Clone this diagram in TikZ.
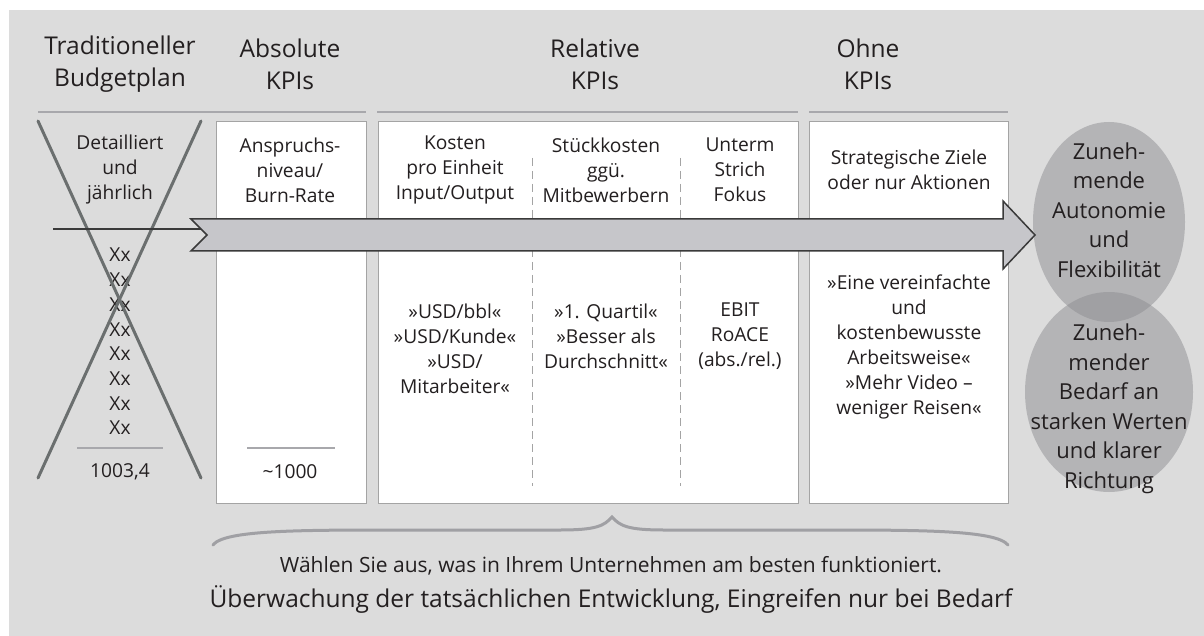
\documentclass[tikz,border=0pt]{standalone}
\usepackage{fontspec}
\setmainfont{Open Sans}
\usetikzlibrary{shapes.geometric}
\definecolor{bg}{HTML}{DCDCDC}
\definecolor{rulec}{HTML}{A8A8AC}
\definecolor{boxline}{HTML}{A4A4A4}
\definecolor{txt}{HTML}{231F20}
\definecolor{crossc}{HTML}{6B6F6F}
\definecolor{arrowfill}{HTML}{C6C6CA}
\definecolor{arrowline}{HTML}{3A3A3A}
\definecolor{ellc}{HTML}{8E8E92}
\definecolor{bracec}{HTML}{A0A0A4}
\begin{document}
\begin{tikzpicture}[x=1pt,y=-1pt,
  hdr/.style={text=txt,font=\fontsize{24.5}{32}\selectfont,align=center,inner sep=0pt},
  bt/.style={text=txt,font=\fontsize{19.2}{25}\selectfont,align=center,inner sep=0pt},
  et/.style={text=txt,font=\fontsize{22}{29.5}\selectfont,align=center,inner sep=0pt},
  hrule/.style={draw=rulec,line width=2.2pt},
  srule/.style={draw=rulec,line width=1.4pt},
  colbox/.style={draw=boxline,fill=white,line width=0.8pt,inner sep=0pt,anchor=north west},
  divider/.style={draw=boxline,line width=0.9pt,dash pattern=on 8pt off 5pt},
  crossline/.style={draw=crossc,line width=3pt,line cap=round},
  bigarrow/.style={draw=arrowline,fill=arrowfill,line width=1.5pt,line join=miter},
  feed/.style={draw=arrowline,line width=1.5pt},
  ell/.style={ellipse,fill=ellc,fill opacity=0.5,draw=none,inner sep=0pt},
  bracepath/.style={draw=bracec,line width=3pt,line cap=round}
]
\useasboundingbox (0,0) rectangle (1204,636);
\fill[bg] (9,10) rectangle (1204,636);

% headers
\node[hdr] (hTrad) at (120,64) {Traditioneller\\Budgetplan};
\node[hdr] (hAbs) at (290,64) {Absolute\\KPIs};
\node[hdr] (hRel) at (595,64) {Relative\\KPIs};
\node[hdr] (hOhne) at (868,64) {Ohne\\KPIs};

\draw[hrule] (38,112) -- (366,112);
\draw[hrule] (377,112) -- (798,112);
\draw[hrule] (809,112) -- (1008,112);

% boxes
\node[colbox,minimum width=150pt,minimum height=382pt] (boxAbs) at (216,121) {};
\node[colbox,minimum width=420pt,minimum height=382pt] (boxRel) at (378,121) {};
\node[colbox,minimum width=199pt,minimum height=382pt] (boxOhne) at (809,121) {};

\draw[divider] (532,158) -- (532,486);
\draw[divider] (680,158) -- (680,486);

% traditional column
\node[bt] (tTop) at (120,170) {Detailliert\\und\\jährlich};
\node[bt,font=\fontsize{19.2}{24.7}\selectfont] (tXx) at (120,341.5) {Xx\\Xx\\Xx\\Xx\\Xx\\Xx\\Xx\\Xx};
\draw[srule] (77,448) -- (163,448);
\node[bt] (tSum) at (120,472) {1003,4};

% absolute column
\node[bt] (aTop) at (290,170) {Anspruchs-\\niveau/\\Burn-Rate};
\draw[srule] (247,448) -- (335,448);
\node[bt] (aSum) at (290,472) {\char"007E 1000};

% relative column
\node[bt] (r1Top) at (455,170) {Kosten\\pro Einheit\\Input/Output};
\node[bt] (r2Top) at (606,170) {Stückkosten\\ggü.\\Mitbewerbern};
\node[bt] (r3Top) at (740,170) {Unterm\\Strich\\Fokus};
\node[bt] (r1Bot) at (455,348.5) {»USD/bbl«\\»USD/Kunde«\\»USD/\\Mitarbeiter«};
\node[bt] (r2Bot) at (606,336) {»1. Quartil«\\»Besser als\\Durchschnitt«};
\node[bt] (r3Bot) at (740,336) {EBIT\\RoACE\\(abs./rel.)};

% ohne column
\node[bt] (oTop) at (909,169.5) {Strategische Ziele\\oder nur Aktionen};
\node[bt] (oBot) at (909,347) {»Eine vereinfachte\\und\\kostenbewusste\\Arbeitsweise«\\»Mehr Video –\\weniger Reisen«};

% cross
\draw[crossline] (38,121) -- (201,478);
\draw[crossline] (201,121) -- (38,478);

% ellipses
\node[ell,minimum width=152pt,minimum height=200pt] (e1) at (1109,222) {};
\node[ell,minimum width=168pt,minimum height=200pt] (e2) at (1109,392) {};
\node[et] (e1t) at (1109,210) {Zuneh-\\mende\\Autonomie\\und\\Flexibilität};
\node[et] (e2t) at (1109,409) {Zuneh-\\mender\\Bedarf an\\starken Werten\\und klarer\\Richtung};

% arrow
\coordinate (feedStart) at (53,229);
\coordinate (notch) at (201,229);
\draw[feed] (feedStart) -- (notch);
\draw[bigarrow] (191,219) -- (1003,219) -- (1003,201) -- (1035,235) -- (1003,269) -- (1003,251) -- (191,251) -- (207,235) -- cycle;

% brace
\draw[bracepath] (213,545) .. controls (224,530) and (300,530) .. (400,530) -- (560,530) .. controls (596,530) and (604,526) .. (612,517)
  .. controls (620,526) and (628,530) .. (664,530) -- (820,530) .. controls (920,530) and (996,530) .. (1008,545);

\node[text=txt,font=\fontsize{21}{24}\selectfont,inner sep=0pt] (choose) at (611,566) {Wählen Sie aus, was in Ihrem Unternehmen am besten funktioniert.};
\node[text=txt,font=\fontsize{24.5}{28}\selectfont,inner sep=0pt] (monitor) at (611,599) {Überwachung der tatsächlichen Entwicklung, Eingreifen nur bei Bedarf};
\end{tikzpicture}
\end{document}
